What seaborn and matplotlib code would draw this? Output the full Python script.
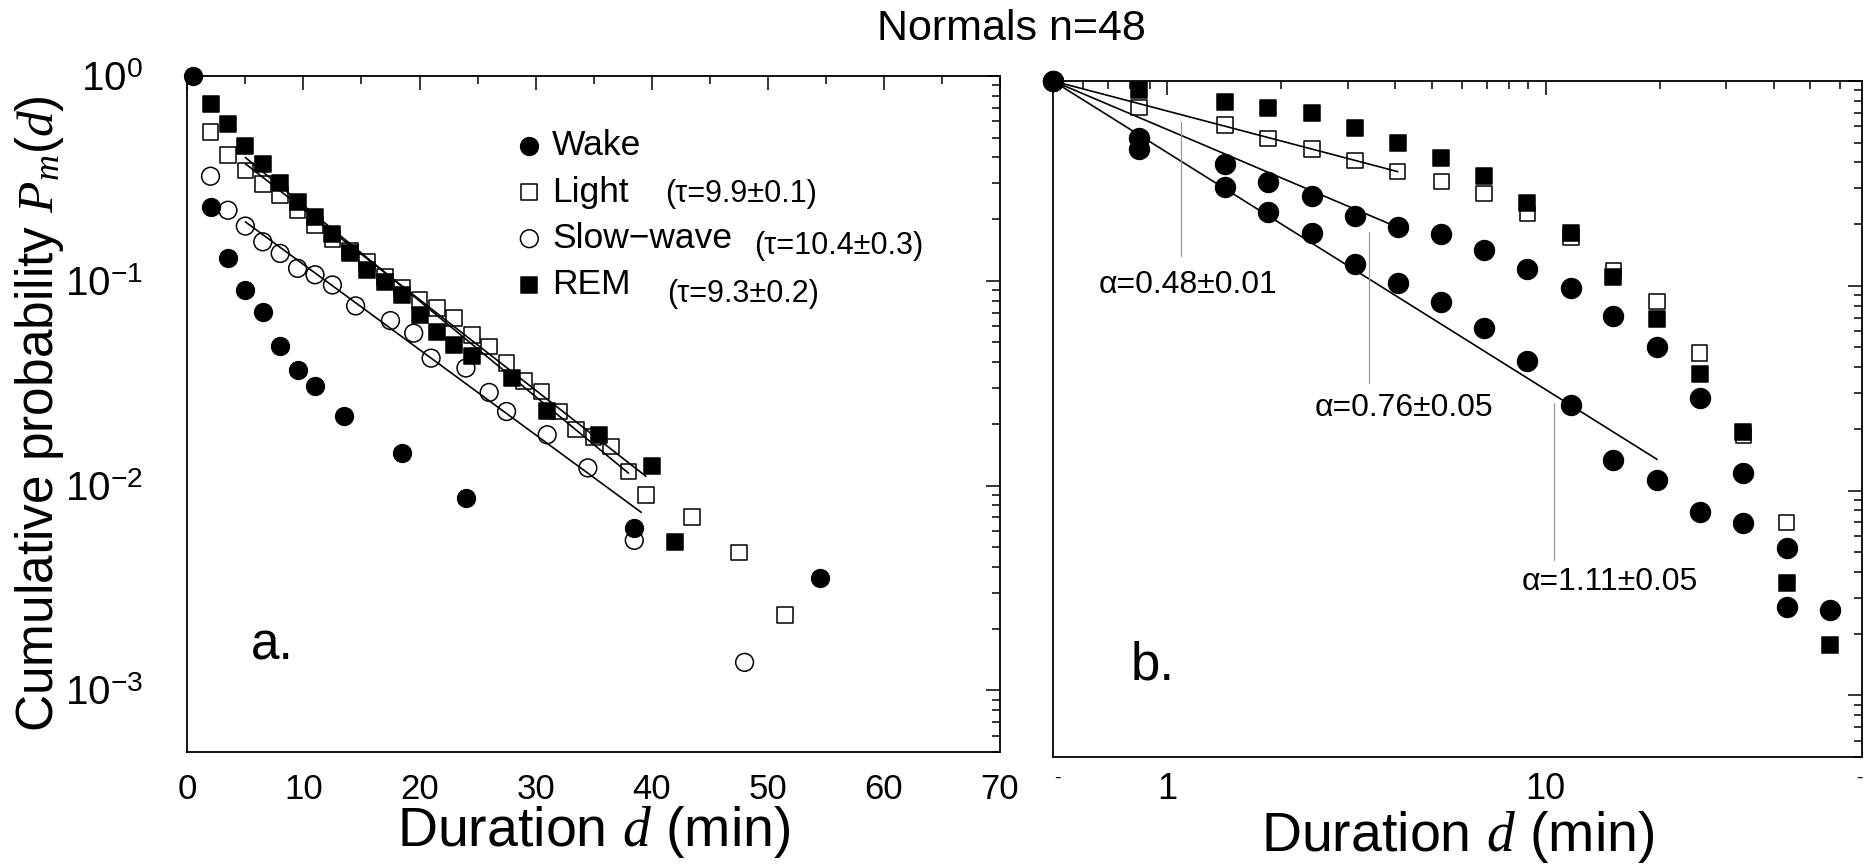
import numpy as np
import pandas as pd
import matplotlib
matplotlib.use("Agg")
import matplotlib.pyplot as plt
import seaborn as sns
from matplotlib.ticker import FixedLocator, NullFormatter, FixedFormatter

# ---------------- data ----------------
title = "Normals n=48"
series_names = ["Wake", "Light", "Slow\u2212wave", "REM"]
tau_labels = ["(\u03c4=9.9\u00b10.1)", "(\u03c4=10.4\u00b10.3)", "(\u03c4=9.3\u00b10.2)"]
alpha_labels = ["\u03b1=0.48\u00b10.01", "\u03b1=0.76\u00b10.05", "\u03b1=1.11\u00b10.05"]

# panel a (linear duration axis)
a_wake_d = [0.5, 2.0, 3.5, 5.0, 6.5, 8.0, 9.5, 11.0, 13.5, 18.5, 24.0, 38.5, 54.5]
a_wake_p = [1.0, 0.230, 0.129, 0.0902, 0.0707, 0.0478, 0.0368, 0.0308, 0.0218, 0.0145, 0.0087, 0.0062, 0.00352]

a_light_d = [2.0, 3.5, 5.0, 6.5, 8.0, 9.5, 11.0, 12.5, 14.0, 15.5, 17.0, 18.5, 20.0, 21.5, 23.0,
             24.5, 26.0, 27.5, 29.0, 30.5, 32.0, 33.5, 35.0, 36.5, 38.0, 39.5, 43.5, 47.5, 51.5]
a_light_p = [0.532, 0.410, 0.346, 0.298, 0.262, 0.221, 0.187, 0.160, 0.140, 0.124, 0.104, 0.0919, 0.0806,
             0.0734, 0.0656, 0.0545, 0.0478, 0.0396, 0.0323, 0.0288, 0.0230, 0.0188, 0.0172, 0.0155,
             0.0117, 0.0090, 0.00705, 0.00471, 0.00234]

a_sw_d = [2.0, 3.5, 5.0, 6.5, 8.0, 9.5, 11.0, 12.5, 14.5, 17.5, 19.5, 21.0, 24.0, 26.0, 27.5, 31.0,
          34.5, 38.5, 48.0]
a_sw_p = [0.324, 0.221, 0.185, 0.155, 0.136, 0.115, 0.107, 0.0954, 0.0754, 0.0639, 0.0555, 0.0419,
          0.0375, 0.0285, 0.0230, 0.0177, 0.0122, 0.0054, 0.00137]

a_rem_d = [2.0, 3.5, 5.0, 6.5, 8.0, 9.5, 11.0, 12.5, 14.0, 15.5, 17.0, 18.5, 20.0, 21.5, 23.0, 24.5,
           28.0, 31.0, 35.5, 40.0, 42.0]
a_rem_p = [0.732, 0.585, 0.454, 0.371, 0.301, 0.243, 0.205, 0.170, 0.136, 0.113, 0.099, 0.0853, 0.0681,
           0.0565, 0.0486, 0.0427, 0.0335, 0.0230, 0.0177, 0.0124, 0.00532]

# exponential fits in panel a (end points of the fitted lines)
a_fit_light_d = [5.0, 39.5]
a_fit_light_p = [0.373, 0.0111]
a_fit_rem_d = [5.0, 38.0]
a_fit_rem_p = [0.400, 0.0115]
a_fit_sw_d = [5.0, 39.1]
a_fit_sw_p = [0.194, 0.0074]

# panel b (log duration axis)
b_d = [0.843, 1.424, 1.85, 2.414, 3.137, 4.068, 5.30, 6.87, 8.94, 11.67, 15.1, 19.7, 25.5, 33.3, 43.3, 56.3]
b_rem_p = [0.904, 0.793, 0.736, 0.696, 0.588, 0.497, 0.420, 0.344, 0.253, 0.181, 0.111, 0.0688,
           0.0372, 0.0193, 0.00355, 0.00177]
b_light_d = b_d[:15]
b_light_p = [0.744, 0.610, 0.525, 0.466, 0.409, 0.361, 0.323, 0.283, 0.225, 0.172, 0.119, 0.0836,
             0.0469, 0.0185, 0.0070]
b_circ_up_d = [0.5] + b_d[:15]
b_circ_up_p = [1.0, 0.525, 0.392, 0.323, 0.275, 0.218, 0.193, 0.179, 0.150, 0.121, 0.0974, 0.0708,
               0.0502, 0.0283, 0.0122, 0.00525]
b_circ_lo_d = [0.5] + b_d
b_circ_lo_p = [1.0, 0.464, 0.303, 0.228, 0.182, 0.128, 0.103, 0.0838, 0.0621, 0.0427, 0.0263, 0.0141,
               0.0113, 0.00783, 0.00695, 0.00271, 0.00261]

# power-law fits in panel b (end points)
b_fit1_d = [0.5, 4.068]
b_fit1_p = [1.0, 0.361]
b_fit2_d = [0.5, 4.068]
b_fit2_p = [1.0, 0.193]
b_fit3_d = [0.5, 19.7]
b_fit3_p = [1.0, 0.0142]

# ---------------- style ----------------
sns.set_theme(style="white")
plt.rcParams["font.family"] = ["Liberation Sans", "DejaVu Sans"]
plt.rcParams["mathtext.fontset"] = "custom"
plt.rcParams["mathtext.rm"] = "Liberation Sans"
plt.rcParams["mathtext.sf"] = "Liberation Sans"
plt.rcParams["mathtext.it"] = "Liberation Serif:italic"
plt.rcParams["mathtext.bf"] = "Liberation Sans:bold"
plt.rcParams["axes.unicode_minus"] = True
for key in ("text.color", "axes.labelcolor", "xtick.color", "ytick.color", "axes.edgecolor"):
    plt.rcParams[key] = "black"

W, H = 1864, 868
fig = plt.figure(figsize=(W / 100, H / 100), dpi=100)
fig.patch.set_facecolor("white")

ax_a = fig.add_axes([187.3 / W, 1 - 752 / H, (1000 - 187.3) / W, (752 - 76) / H])
ax_b = fig.add_axes([1053 / W, 1 - 757 / H, (1862 - 1053) / W, (757 - 81) / H])

for ax in (ax_a, ax_b):
    ax.set_facecolor("white")
    for sp in ax.spines.values():
        sp.set_visible(True)
        sp.set_color("black")
        sp.set_linewidth(1.3)
    ax.set_yscale("log")
    ax.set_ylim(5e-4, 1.0)

ax_b.set_xscale("log")

LW_LINE = 1.2
MEW = 1.1


def scat(ax, d, p, marker, filled, ms, z, label=None):
    df = pd.DataFrame({"d": d, "p": p})
    sns.scatterplot(data=df, x="d", y="p", ax=ax, marker=marker, s=ms ** 2,
                    color="black" if filled else "none", edgecolor="black",
                    linewidth=MEW, zorder=z, clip_on=False, label=label, legend=False)
    return ax.collections[-1]


def fitline(ax, d, p):
    df = pd.DataFrame({"d": d, "p": p})
    sns.lineplot(data=df, x="d", y="p", ax=ax, color="black", linewidth=LW_LINE,
                 sort=False, estimator=None, zorder=1, legend=False)


# ---- panel a ----
fitline(ax_a, a_fit_light_d, a_fit_light_p)
fitline(ax_a, a_fit_rem_d, a_fit_rem_p)
fitline(ax_a, a_fit_sw_d, a_fit_sw_p)
h_light = scat(ax_a, a_light_d, a_light_p, "s", False, 11.3, 2, series_names[1])
h_sw = scat(ax_a, a_sw_d, a_sw_p, "o", False, 12.8, 2, series_names[2])
h_rem = scat(ax_a, a_rem_d, a_rem_p, "s", True, 11.3, 3, series_names[3])
h_wake = scat(ax_a, a_wake_d, a_wake_p, "o", True, 12.8, 4, series_names[0])

ax_a.set_xlim(0, 70)
ax_a.xaxis.set_major_locator(FixedLocator(np.arange(0, 71, 10)))
ax_a.xaxis.set_minor_locator(FixedLocator(np.arange(5, 70, 10)))
ax_a.xaxis.set_major_formatter(FixedFormatter([str(v) for v in range(0, 71, 10)]))
ax_a.yaxis.set_major_locator(FixedLocator([1e-3, 1e-2, 1e-1, 1.0]))
ax_a.yaxis.set_major_formatter(FixedFormatter([r"$10^{-3}$", r"$10^{-2}$", r"$10^{-1}$", r"$10^{0}$"]))
yminor = [m * 10.0 ** e for e in range(-4, 0) for m in range(2, 10) if 5e-4 <= m * 10.0 ** e < 1]
ax_a.yaxis.set_minor_locator(FixedLocator(yminor))
ax_a.yaxis.set_minor_formatter(NullFormatter())
ax_a.tick_params(axis="both", which="both", direction="in", top=True, right=True,
                 color="black", width=1.1)
ax_a.tick_params(which="major", length=10)
ax_a.tick_params(which="minor", length=5.5)
ax_a.tick_params(axis="x", which="major", labelsize=25, pad=15)
ax_a.tick_params(axis="y", which="major", labelsize=29, pad=32)

ax_a.set_xlabel("Duration $d$ (min)", fontsize=40)
ax_a.xaxis.set_label_coords(0.5, -0.077)
ax_a.set_ylabel("Cumulative probability $P_m(d)$", fontsize=37)
ax_a.yaxis.set_label_coords(-0.149, 0.5)

leg = ax_a.legend(handles=[h_wake, h_light, h_sw, h_rem], labels=series_names,
                  loc="center left", bbox_to_anchor=(0.3995, 0.794), frameon=False,
                  fontsize=25.5, handlelength=0.98, handletextpad=0.15, labelspacing=0.38,
                  borderpad=0, borderaxespad=0, scatterpoints=1)

tau_pos = [(0.588, 0.825), (0.697, 0.748), (0.591, 0.678)]
for (tx, ty), lab in zip(tau_pos, tau_labels):
    ax_a.text(tx, ty, lab, transform=ax_a.transAxes, fontsize=22, ha="left", va="center")

ax_a.text(5.5, 0.00142, "a.", fontsize=37, ha="left", va="baseline")

# ---- panel b ----
fitline(ax_b, b_fit1_d, b_fit1_p)
fitline(ax_b, b_fit2_d, b_fit2_p)
fitline(ax_b, b_fit3_d, b_fit3_p)
scat(ax_b, b_light_d, b_light_p, "s", False, 11.0, 2)
scat(ax_b, b_d, b_rem_p, "s", True, 11.0, 3)
scat(ax_b, b_circ_up_d, b_circ_up_p, "o", True, 14.3, 4)
scat(ax_b, b_circ_lo_d, b_circ_lo_p, "o", True, 14.3, 4)

ax_b.set_xlim(0.5, 68.5)
ax_b.xaxis.set_major_locator(FixedLocator([1, 10]))
ax_b.xaxis.set_major_formatter(FixedFormatter(["1", "10"]))
xminor = [0.6, 0.7, 0.8, 0.9, 2, 3, 4, 5, 6, 7, 8, 9, 20, 30, 40, 50, 60]
ax_b.xaxis.set_minor_locator(FixedLocator(xminor))
ax_b.xaxis.set_minor_formatter(NullFormatter())
ax_b.yaxis.set_major_locator(FixedLocator([1e-3, 1e-2, 1e-1, 1.0]))
ax_b.yaxis.set_major_formatter(NullFormatter())
ax_b.yaxis.set_minor_locator(FixedLocator(yminor))
ax_b.yaxis.set_minor_formatter(NullFormatter())
ax_b.tick_params(axis="both", which="both", direction="in", top=True, right=True,
                 color="black", width=1.1)
ax_b.tick_params(which="major", length=10)
ax_b.tick_params(which="minor", length=5.5)
ax_b.tick_params(axis="x", which="major", labelsize=26, pad=11)
ax_b.set_xlabel("Duration $d$ (min)", fontsize=40)
ax_b.xaxis.set_label_coords(0.5, -0.077)
ax_b.set_ylabel("")

# leader lines and exponents
leaders = [((1.087, 1.087), (0.633, 0.139)),
           ((3.42, 3.42), (0.184, 0.0335)),
           ((10.5, 10.5), (0.0269, 0.0046))]
for xs, ys in leaders:
    ax_b.plot(xs, ys, color="#9a9a9a", linewidth=0.9, zorder=1)
alpha_pos = [(0.661, 0.101), (2.45, 0.0254), (8.64, 0.00356)]
for (tx, ty), lab in zip(alpha_pos, alpha_labels):
    ax_b.text(tx, ty, lab, fontsize=23, ha="left", va="center")

ax_b.text(0.80, 0.0012, "b.", fontsize=38, ha="left", va="baseline")
ax_b.text(0.005, -0.031, "-", transform=ax_b.transAxes, fontsize=14, ha="center", va="center")
ax_b.text(0.997, -0.031, "-", transform=ax_b.transAxes, fontsize=14, ha="center", va="center")

fig.text(1011 / W, 1 - 29 / H, title, ha="center", va="center", fontsize=31)

fig.savefig("out.png", dpi=100, facecolor="white")
